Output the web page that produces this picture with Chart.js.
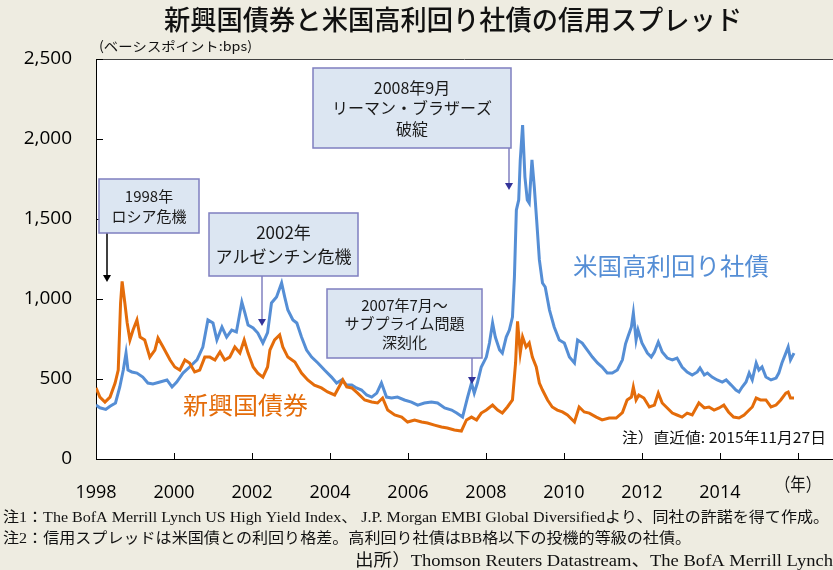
<!DOCTYPE html>
<html><head><meta charset="utf-8">
<script src="https://cdn.jsdelivr.net/npm/chart.js@4/dist/chart.umd.min.js"></script>
<style>html,body{margin:0;padding:0;background:#EEECE1;}#wrap{width:833px;height:570px;position:relative;}</style>
</head><body><div id="wrap"><canvas id="c" width="833" height="570"></canvas></div>
<script>
// ---- data ----
const usDates = [1998.00,1998.10,1998.25,1998.36,1998.50,1998.61,1998.70,1998.77,1998.82,1998.92,1999.05,1999.20,1999.33,1999.46,1999.64,1999.82,1999.95,2000.07,2000.23,2000.40,2000.59,2000.74,2000.87,2001.00,2001.10,2001.23,2001.35,2001.48,2001.60,2001.74,2001.82,2001.90,2002.03,2002.15,2002.28,2002.40,2002.50,2002.63,2002.76,2002.84,2002.92,2003.05,2003.15,2003.27,2003.40,2003.53,2003.69,2003.86,2004.04,2004.17,2004.30,2004.43,2004.56,2004.68,2004.81,2004.94,2005.07,2005.20,2005.32,2005.45,2005.58,2005.73,2005.91,2006.09,2006.25,2006.42,2006.60,2006.76,2006.94,2007.12,2007.25,2007.40,2007.53,2007.63,2007.70,2007.78,2007.88,2008.01,2008.09,2008.17,2008.24,2008.35,2008.42,2008.52,2008.60,2008.68,2008.73,2008.78,2008.84,2008.88,2008.94,2009.00,2009.06,2009.11,2009.18,2009.24,2009.30,2009.37,2009.45,2009.52,2009.63,2009.75,2009.88,2010.01,2010.14,2010.27,2010.35,2010.47,2010.60,2010.73,2010.86,2010.98,2011.11,2011.24,2011.37,2011.50,2011.58,2011.65,2011.73,2011.78,2011.85,2011.90,2012.00,2012.14,2012.24,2012.32,2012.42,2012.52,2012.65,2012.78,2012.90,2013.03,2013.16,2013.29,2013.42,2013.49,2013.60,2013.68,2013.80,2013.93,2014.06,2014.16,2014.29,2014.41,2014.49,2014.57,2014.67,2014.75,2014.83,2014.93,2015.00,2015.08,2015.18,2015.31,2015.44,2015.51,2015.59,2015.69,2015.75,2015.81,2015.90];
const usValues = [337,320,310,330,350,450,556,662,556,544,537,512,475,469,481,494,450,481,537,575,619,700,869,850,744,825,762,806,794,981,912,837,819,787,725,790,975,1012,1100,1012,931,869,850,762,681,637,600,556,512,475,494,462,462,444,431,400,387,412,475,387,381,387,369,356,337,350,356,350,319,306,287,262,387,475,412,475,575,637,725,850,762,681,662,762,806,887,1137,1556,1619,1869,2087,1762,1619,1600,1869,1700,1494,1244,1100,1075,931,825,744,725,637,600,744,725,681,637,600,575,537,537,556,620,720,770,825,912,744,806,725,662,637,669,731,669,631,619,631,575,544,525,544,569,525,537,512,494,481,494,462,431,419,450,481,537,494,600,556,575,512,494,506,537,600,662,700,619,662];
const emDates = [1998.00,1998.10,1998.23,1998.36,1998.49,1998.57,1998.63,1998.67,1998.74,1998.80,1998.87,1998.95,1999.05,1999.13,1999.25,1999.38,1999.51,1999.59,1999.72,1999.90,2000.02,2000.15,2000.28,2000.40,2000.53,2000.66,2000.79,2000.92,2001.05,2001.18,2001.30,2001.43,2001.56,2001.69,2001.80,2001.90,2002.03,2002.15,2002.28,2002.40,2002.46,2002.58,2002.71,2002.79,2002.92,2003.10,2003.27,2003.43,2003.60,2003.78,2003.94,2004.12,2004.33,2004.43,2004.56,2004.71,2004.89,2005.07,2005.22,2005.35,2005.48,2005.66,2005.84,2005.99,2006.17,2006.35,2006.50,2006.68,2006.86,2007.01,2007.19,2007.37,2007.50,2007.63,2007.76,2007.88,2008.01,2008.17,2008.30,2008.42,2008.55,2008.68,2008.76,2008.81,2008.88,2008.94,2009.03,2009.11,2009.19,2009.29,2009.37,2009.45,2009.58,2009.70,2009.83,2009.96,2010.09,2010.27,2010.39,2010.52,2010.65,2010.83,2010.98,2011.16,2011.34,2011.50,2011.62,2011.73,2011.78,2011.85,2011.92,2012.05,2012.19,2012.32,2012.42,2012.52,2012.65,2012.78,2012.90,2013.03,2013.16,2013.29,2013.46,2013.60,2013.72,2013.85,2013.98,2014.10,2014.22,2014.35,2014.49,2014.62,2014.75,2014.83,2014.93,2015.04,2015.18,2015.31,2015.44,2015.56,2015.69,2015.75,2015.81,2015.90];
const emValues = [444,387,356,387,475,556,975,1110,975,850,744,806,869,762,744,637,681,756,700,619,575,556,619,600,544,556,637,637,619,669,619,637,700,662,744,662,575,537,512,575,681,744,775,700,637,606,537,494,462,444,419,400,494,450,444,412,369,356,350,381,306,275,262,231,244,231,225,212,200,194,181,175,244,262,244,287,306,337,306,287,325,369,600,860,662,762,700,725,637,575,475,431,369,325,306,294,275,231,325,294,287,262,244,256,256,290,369,387,450,369,400,381,325,337,412,350,319,287,275,262,287,275,350,319,325,306,319,337,294,262,256,275,306,325,381,369,369,325,337,369,412,419,381,381];
const yTickValues = [0, 500, 1000, 1500, 2000, 2500];
const xTickYears = [1998, 2000, 2002, 2004, 2006, 2008, 2010, 2012, 2014];
const xTickMarks = [1998, 2000, 2002, 2004, 2006, 2008, 2010, 2012, 2014, 2016];
const seriesNames = ['米国高利回り社債', '新興国債券'];

const BLUE = '#558ED5', ORANGE = '#E46C0A';
const JP = "'Noto Sans CJK JP', sans-serif";

// draw text scaled horizontally to exactly width w
function fitText(ctx, text, x, y, w, align) {
  const m = ctx.measureText(text).width;
  const s = w / m;
  ctx.save();
  let x0 = x;
  if (align === 'center') x0 = x - w / 2;
  else if (align === 'right') x0 = x - w;
  ctx.translate(x0, y);
  ctx.scale(s, 1);
  ctx.textAlign = 'left';
  ctx.fillText(text, 0, 0);
  ctx.restore();
}
function arrow(ctx, x, y1, y2, lineColor, headColor) {
  ctx.save();
  ctx.strokeStyle = lineColor; ctx.lineWidth = 1.5;
  ctx.beginPath(); ctx.moveTo(x, y1); ctx.lineTo(x, y2 - 6); ctx.stroke();
  ctx.fillStyle = headColor;
  ctx.beginPath(); ctx.moveTo(x - 4, y2 - 7); ctx.lineTo(x + 4, y2 - 7); ctx.lineTo(x, y2); ctx.closePath(); ctx.fill();
  ctx.restore();
}
function box(ctx, x, y, w, h, lines, size, lh) {
  ctx.save();
  ctx.fillStyle = '#DCE6F2';
  ctx.strokeStyle = '#7F7FC0'; ctx.lineWidth = 1.5;
  ctx.fillRect(x, y, w, h); ctx.strokeRect(x, y, w, h);
  ctx.fillStyle = '#1a1a1a';
  ctx.font = size + 'px ' + JP;
  ctx.textBaseline = 'middle';
  ctx.textAlign = 'center';
  const cy = y + h / 2 - (lines.length - 1) * lh / 2;
  lines.forEach((t, i) => ctx.fillText(t, x + w / 2, cy + i * lh));
  ctx.restore();
}

const bgPlugin = {
  id: 'bg',
  beforeDraw(chart) {
    const {ctx, chartArea: a} = chart;
    ctx.save();
    ctx.fillStyle = '#EEECE1';
    ctx.fillRect(0, 0, chart.width, chart.height);
    ctx.fillStyle = '#FFFFFF';
    ctx.fillRect(a.left, a.top, chart.width - a.left, a.bottom - a.top);
    ctx.restore();
  },
  afterDraw(chart) {
    const {ctx, chartArea: a, scales: {x, y}} = chart;
    ctx.save();
    ctx.strokeStyle = '#404040'; ctx.lineWidth = 1;
    ctx.beginPath(); ctx.moveTo(a.left, a.top + 0.5); ctx.lineTo(chart.width, a.top + 0.5); ctx.stroke();
    ctx.strokeStyle = '#000'; ctx.lineWidth = 1;
    yTickValues.forEach(v => { if (v === 0) return; const py = Math.round(y.getPixelForValue(v)) + 0.5; ctx.beginPath(); ctx.moveTo(a.left, py); ctx.lineTo(a.left + 7, py); ctx.stroke(); });
    xTickMarks.forEach(v => { const px = Math.round(x.getPixelForValue(v)) + 0.5; ctx.beginPath(); ctx.moveTo(px, a.bottom); ctx.lineTo(px, a.bottom - 6); ctx.stroke(); });

    ctx.fillStyle = '#111';
    ctx.textBaseline = 'middle';
    ctx.font = '500 27px ' + JP;
    fitText(ctx, '新興国債券と米国高利回り社債の信用スプレッド', 453, 20, 578, 'center');
    ctx.font = '13px ' + JP;
    fitText(ctx, '(ベーシスポイント:bps)', 99, 46, 153, 'left');

    ctx.font = '24px ' + JP;
    ctx.fillStyle = BLUE;
    fitText(ctx, seriesNames[0], 573, 266, 196, 'left');
    ctx.fillStyle = ORANGE;
    fitText(ctx, seriesNames[1], 183, 405, 125, 'left');

    ctx.fillStyle = '#111';
    ctx.font = '15px ' + JP;
    fitText(ctx, '注）直近値: 2015年11月27日', 622, 437, 204, 'left');

    ctx.font = '18px ' + JP;
    fitText(ctx, '（年）', 775, 484, 46, 'left');

    arrow(ctx, 107, 233, 282, '#000', '#000');
    arrow(ctx, 262, 276, 326, '#8080C0', '#333399');
    arrow(ctx, 472, 358, 384, '#8080C0', '#333399');
    arrow(ctx, 509, 148, 190, '#8080C0', '#333399');
    box(ctx, 99, 179, 100, 54, ['1998年', 'ロシア危機'], 15, 20);
    box(ctx, 209, 213, 149, 63, ['2002年', 'アルゼンチン危機'], 17, 24);
    box(ctx, 313, 68, 198, 80, ['2008年9月', 'リーマン・ブラザーズ', '破綻'], 16, 20.5);
    box(ctx, 327, 289, 155, 69, ['2007年7月～', 'サブプライム問題', '深刻化'], 15, 18.5);

    ctx.fillStyle = '#111';
    ctx.font = "15px 'Liberation Serif', 'Noto Sans CJK JP', serif";
    fitText(ctx, '注1：The BofA Merrill Lynch US High Yield Index、 J.P. Morgan EMBI Global Diversifiedより、同社の許諾を得て作成。', 3, 518, 826, 'left');
    fitText(ctx, '注2：信用スプレッドは米国債との利回り格差。高利回り社債はBB格以下の投機的等級の社債。', 3, 539, 688, 'left');
    ctx.font = "17px 'Liberation Serif', 'Noto Sans CJK JP', serif";
    fitText(ctx, '出所）Thomson Reuters Datastream、The BofA Merrill Lynch', 355, 562, 478, 'left');
    ctx.restore();
  }
};

new Chart(document.getElementById('c'), {
  type: 'line',
  data: {
    datasets: [
      { label: seriesNames[1], data: emDates.map((d, i) => ({x: d, y: emValues[i]})), borderColor: ORANGE, borderWidth: 3, pointRadius: 0, tension: 0, fill: false },
      { label: seriesNames[0], data: usDates.map((d, i) => ({x: d, y: usValues[i]})), borderColor: BLUE, borderWidth: 3, pointRadius: 0, tension: 0, fill: false }
    ]
  },
  options: {
    responsive: false, animation: false, devicePixelRatio: 1,
    layout: { padding: { top: 59, left: 0, right: 0, bottom: 0 } },
    plugins: { legend: { display: false }, tooltip: { enabled: false }, title: { display: false } },
    scales: {
      x: {
        type: 'linear', min: 1998, max: 2016.9,
        afterBuildTicks: s => { s.ticks = xTickYears.map(v => ({value: v})); },
        afterFit: s => { s.height = 111; },
        ticks: { autoSkip: false, maxRotation: 0, padding: 23, color: '#000', font: { family: "'Open Sans', sans-serif", size: 18 }, callback: v => String(v) },
        grid: { display: false, drawTicks: false },
        border: { display: true, color: '#000', width: 1 }
      },
      y: {
        min: 0, max: 2500,
        afterBuildTicks: s => { s.ticks = yTickValues.map(v => ({value: v})); },
        afterFit: s => { s.width = 96; },
        ticks: { padding: 24, color: '#000', font: { family: "'Open Sans', sans-serif", size: 19 }, callback: v => v.toLocaleString('en-US') },
        grid: { display: false, drawTicks: false },
        border: { display: true, color: '#000', width: 1 }
      }
    }
  },
  plugins: [bgPlugin]
});
</script></body></html>
